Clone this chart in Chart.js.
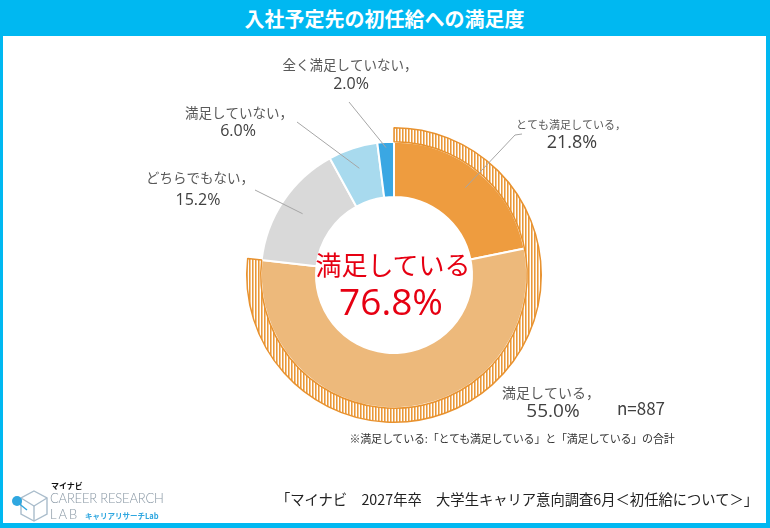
<!DOCTYPE html>
<html lang="ja">
<head>
<meta charset="utf-8">
<title>入社予定先の初任給への満足度</title>
<script src="https://cdn.jsdelivr.net/npm/chart.js@4.4.1/dist/chart.umd.min.js"></script>
<style>
  html, body { margin: 0; padding: 0; background: #fff; }
  body { font-family: "Noto Sans CJK JP", "Noto Sans", sans-serif; color: #595959; }
  #frame {
    position: relative; width: 770px; height: 528px; box-sizing: border-box;
    border-left: 3px solid #00B8F1; border-right: 4px solid #00B8F1; border-bottom: 5px solid #00B8F1;
    overflow: hidden;
  }
  #titlebar {
    position: absolute; left: 0; top: 0; right: 0; height: 36px; background: #00B8F1;
    color: #fff; font-weight: 700; font-size: 20px; line-height: 37px; text-align: center;
    z-index: 2;
  }
  #chartWrap { position: absolute; left: -3px; top: 0; width: 770px; height: 528px; }
  .txt { position: absolute; white-space: nowrap; transform: translate(-50%, -50%); z-index: 3; }
  #centerLabel { left: 390px; top: 263px; font-size: 26px; color: #E60012; }
  #centerValue { left: 388px; top: 300px; font-size: 37px; color: #E60012; font-family: "Open Sans", "Noto Sans", sans-serif; }
  #nCount { left: 638px; top: 407px; font-size: 17px; color: #404040; }
  #note { left: 509px; top: 438px; font-size: 11px; color: #333; letter-spacing: -0.2px; }
  #source { left: 514px; top: 498px; font-size: 14.3px; color: #222; }
  #logo { position: absolute; left: 6px; top: 480px; width: 200px; height: 42px; z-index: 3; }
  #logo .brand { position: absolute; left: 42px; top: 0px; font-size: 8px; font-weight: 700; color: #111; }
  #logo .cr { position: absolute; left: 41px; top: 10px; font-family: Lato, sans-serif; font-weight: 300; font-size: 13px; color: #8796A3; letter-spacing: -0.2px; }
  #logo .lab { position: absolute; left: 41px; top: 26px; font-family: Lato, sans-serif; font-weight: 300; font-size: 13px; color: #8796A3; letter-spacing: 2px; }
  #logo .kana { position: absolute; left: 76px; top: 30px; font-size: 7.5px; font-weight: 700; color: #2FA7E0; }
</style>
</head>
<body>
<div id="frame">
  <div id="titlebar">入社予定先の初任給への満足度</div>
  <div id="chartWrap"><canvas id="satisfaction"></canvas></div>
  <div class="txt" id="centerLabel">満足している</div>
  <div class="txt" id="centerValue"></div>
  <div class="txt" id="nCount"></div>
  <div class="txt" id="note">※満足している:「とても満足している」と「満足している」の合計</div>
  <div class="txt" id="source">「マイナビ　2027年卒　大学生キャリア意向調査6月＜初任給について＞」</div>
  <div id="logo">
    <svg width="40" height="44" viewBox="0 0 40 44" style="position:absolute;left:0;top:0">
      <polygon points="25,11 38,18 38,34 25,41 12,34 12,18" fill="none" stroke="#A9BCCB" stroke-width="1.4"/>
      <polyline points="12,18 25,26 38,18" fill="none" stroke="#A9BCCB" stroke-width="1.4"/>
      <line x1="25" y1="26" x2="25" y2="41" stroke="#A9BCCB" stroke-width="1.4"/>
      <line x1="8" y1="22" x2="18" y2="30" stroke="#2FA7E0" stroke-width="1.4"/>
      <circle cx="8" cy="21" r="5" fill="#2FA7E0"/>
    </svg>
    <div class="brand">マイナビ</div>
    <div class="cr">CAREER RESEARCH</div>
    <div class="lab">LAB</div>
    <div class="kana">キャリアリサーチLab</div>
  </div>
</div>

<script>
// --- data ---
const categories = ['とても満足している', '満足している', 'どちらでもない', '満足していない', '全く満足していない'];
const shares = [21.8, 55.0, 15.2, 6.0, 2.0];
const sliceColors = ['#EE9C3F', '#EDB97B', '#D9D9D9', '#A8DAEE', '#3AA7E3'];
const sampleSize = 887;

// "満足している" = top two answers
const satisfiedTotal = Math.round((shares[0] + shares[1]) * 10) / 10;
const bandValues = [satisfiedTotal, 100 - satisfiedTotal];

document.getElementById('centerValue').textContent = satisfiedTotal.toFixed(1) + '%';
document.getElementById('nCount').textContent = 'n=' + sampleSize;

// label placement relative to the donut centre (layout only)
const labelLayout = [
  { head: [177, -150], value: [178, -132], headSize: 11, valueSize: 18, line: [[128, -141], [121, -140]], depth: 0.63 },
  { head: [157, 118], value: [159, 137], headSize: 14, valueSize: 19, line: null },
  { head: [-194, -97], value: [-196, -75], headSize: 13.5, valueSize: 16, line: [[-139, -85]], depth: 0.58 },
  { head: [-155, -162], value: [-156, -144], headSize: 13.5, valueSize: 16, line: [[-97, -153]], depth: 0.62 },
  { head: [-44, -210], value: [-43, -191], headSize: 13.5, valueSize: 16, line: [[-45, -173]], depth: 0.9 },
];

// vertical stripe fill for the outer "satisfied" band
function stripePattern() {
  const tile = document.createElement('canvas');
  tile.width = 3;
  tile.height = 4;
  const t = tile.getContext('2d');
  t.fillStyle = '#fff';
  t.fillRect(0, 0, 3, 4);
  t.fillStyle = '#E99839';
  t.fillRect(0, 0, 1, 4);
  t.fillStyle = '#F4C48C';
  t.fillRect(1, 0, 1, 4);
  return t.createPattern(tile, 'repeat');
}

const sliceLabels = {
  id: 'sliceLabels',
  afterDatasetsDraw(chart) {
    const ctx = chart.ctx;
    const arcs = chart.getDatasetMeta(1).data;
    ctx.save();
    ctx.textAlign = 'center';
    ctx.textBaseline = 'middle';
    arcs.forEach((arc, i) => {
      const lay = labelLayout[i];
      const cx = arc.x, cy = arc.y;
      if (lay.line) {
        const mid = (arc.startAngle + arc.endAngle) / 2;
        const r = arc.innerRadius + (arc.outerRadius - arc.innerRadius) * lay.depth;
        ctx.strokeStyle = '#A6A6A6';
        ctx.lineWidth = 1;
        ctx.beginPath();
        lay.line.forEach((p, k) => {
          if (k === 0) ctx.moveTo(cx + p[0], cy + p[1]);
          else ctx.lineTo(cx + p[0], cy + p[1]);
        });
        ctx.lineTo(cx + Math.cos(mid) * r, cy + Math.sin(mid) * r);
        ctx.stroke();
      }
      ctx.fillStyle = '#595959';
      ctx.font = lay.headSize + 'px "Noto Sans CJK JP"';
      ctx.fillText(categories[i] + '，', cx + lay.head[0], cy + lay.head[1]);
      ctx.fillStyle = '#404040';
      ctx.font = lay.valueSize + 'px "Open Sans", "Noto Sans"';
      ctx.fillText(shares[i].toFixed(1) + '%', cx + lay.value[0], cy + lay.value[1]);
    });
    ctx.restore();
  }
};

const canvas = document.getElementById('satisfaction');
new Chart(canvas.getContext('2d'), {
  type: 'doughnut',
  data: {
    labels: ['満足している', ''],
    datasets: [
      {
        data: bandValues,
        backgroundColor: [stripePattern(), 'rgba(0,0,0,0)'],
        borderColor: ['#E8922F', 'rgba(0,0,0,0)'],
        borderWidth: [1.5, 0],
        hoverOffset: 0,
        weight: 14,
      },
      {
        data: shares,
        backgroundColor: sliceColors,
        borderColor: '#fff',
        borderWidth: 2,
        hoverOffset: 0,
        weight: 55,
      },
    ],
  },
  options: {
    responsive: true,
    maintainAspectRatio: false,
    animation: false,
    cutout: 78,
    layout: { padding: { left: 246, right: 228, top: 127, bottom: 105 } },
    plugins: {
      legend: { display: false },
      tooltip: { enabled: false },
    },
  },
  plugins: [sliceLabels],
});
</script>
</body>
</html>
